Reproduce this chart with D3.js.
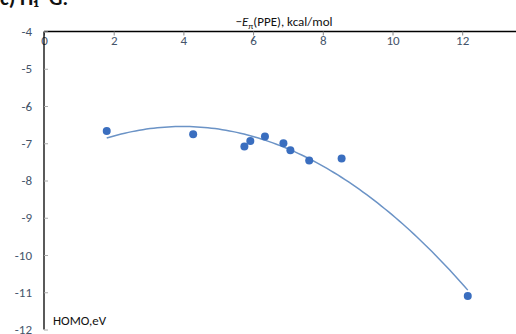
<!DOCTYPE html>
<html>
<head>
<meta charset="utf-8">
<script src="https://cdn.jsdelivr.net/npm/d3@7"></script>
<style>
  body { margin: 0; background: #fff; }
  svg { display: block; font-family: Calibri, Carlito, "Liberation Sans", Arial, sans-serif; }
</style>
</head>
<body>
<svg></svg>
<script>
// -E_pi(PPE) values, kcal/mol
let epiValues = [1.80, 4.28, 5.75, 5.92, 6.34, 6.87, 7.07, 7.61, 8.54, 12.16]
// HOMO energies, eV
let homoValues = [-6.67, -6.76, -7.09, -6.94, -6.82, -7.00, -7.19, -7.46, -7.41, -11.10]

let xTicks = [0, 2, 4, 6, 8, 10, 12]
let yTicks = [-4, -5, -6, -7, -8, -9, -10, -11, -12]

let width = 516
let height = 334

let svg = d3.select("svg")
    .attr("width", width)
    .attr("height", height)

let xScale = d3.scaleLinear()
    .domain([0, 14])
    .range([44, 44 + 14 * 34.85])

let yScale = d3.scaleLinear()
    .domain([-4, -12])
    .range([31.5, 329.5])

// quadratic least squares fit, same as the spreadsheet trendline
let fitQuadratic = (xs, ys) => {
    let s = [0, 0, 0, 0, 0], t = [0, 0, 0]
    xs.forEach((x, i) => {
        for (let k = 0; k < 5; k++) s[k] += Math.pow(x, k)
        for (let k = 0; k < 3; k++) t[k] += ys[i] * Math.pow(x, k)
    })
    let m = [[s[0], s[1], s[2], t[0]], [s[1], s[2], s[3], t[1]], [s[2], s[3], s[4], t[2]]]
    for (let i = 0; i < 3; i++) {
        for (let j = i + 1; j < 3; j++) {
            let f = m[j][i] / m[i][i]
            for (let k = i; k < 4; k++) m[j][k] -= f * m[i][k]
        }
    }
    let c = [0, 0, 0]
    for (let i = 2; i >= 0; i--) {
        let v = m[i][3]
        for (let k = i + 1; k < 3; k++) v -= m[i][k] * c[k]
        c[i] = v / m[i][i]
    }
    return c
}

let coef = fitQuadratic(epiValues, homoValues)
let xMin = d3.min(epiValues), xMax = d3.max(epiValues)
let curve = d3.range(0, 101).map(i => {
    let x = xMin + (xMax - xMin) * i / 100
    return [x, coef[0] + coef[1] * x + coef[2] * x * x]
})

// panel label, mostly cut off at the top
svg.append("text")
    .attr("x", 0)
    .attr("y", 5)
    .attr("font-size", 21)
    .attr("font-weight", "bold")
    .attr("fill", "#111")
    .text("c) H\u2081\u2013G.")

// x axis at the top
let xAxis = d3.axisBottom(xScale)
    .tickValues(xTicks)
    .tickSize(4)
    .tickPadding(0)

let gx = svg.append("g")
    .attr("transform", "translate(0," + yScale(-4) + ")")
    .call(xAxis)
gx.select(".domain").attr("stroke", "#000").attr("stroke-width", 1.3).attr("d", "M" + xScale(0) + ",0H" + width)
gx.selectAll(".tick line").attr("stroke", "#888")
gx.selectAll(".tick text")
    .attr("fill", "#44546a")
    .attr("font-size", 13)
    .attr("font-family", "Calibri, Carlito, 'Liberation Sans', sans-serif")

// y axis
let yAxis = d3.axisRight(yScale)
    .tickValues(yTicks)
    .tickSize(4)
    .tickFormat(d => d)

let gy = svg.append("g")
    .attr("transform", "translate(" + xScale(0) + ",0)")
    .call(yAxis)
gy.select(".domain").attr("stroke", "#000").attr("stroke-width", 1.3).attr("d", "M0," + yScale(-4) + "V" + yScale(-12))
gy.selectAll(".tick line").attr("stroke", "#aaa")
gy.selectAll(".tick text")
    .attr("x", -12)
    .attr("text-anchor", "end")
    .attr("fill", "#44546a")
    .attr("font-size", 13)
    .attr("font-family", "Calibri, Carlito, 'Liberation Sans', sans-serif")

// axis titles
let xt = svg.append("text")
    .attr("x", 284)
    .attr("y", 26)
    .attr("text-anchor", "middle")
    .attr("font-size", 13)
    .attr("fill", "#111")
xt.append("tspan").text("\u2212")
xt.append("tspan").attr("font-style", "italic").text("E")
xt.append("tspan").attr("font-size", 9).attr("dy", 3).text("\u03c0")
xt.append("tspan").attr("dy", -3).text("(PPE), kcal/mol")

svg.append("text")
    .attr("x", 53)
    .attr("y", 325)
    .attr("font-size", 13)
    .attr("fill", "#111")
    .text("HOMO,eV")

// trendline
let line = d3.line()
    .x(d => xScale(d[0]))
    .y(d => yScale(d[1]))

svg.append("path")
    .datum(curve)
    .attr("d", line)
    .attr("fill", "none")
    .attr("stroke", "#6b93c6")
    .attr("stroke-width", 1.5)

// data points
svg.selectAll("circle")
    .data(epiValues)
    .enter()
    .append("circle")
    .attr("cx", d => xScale(d))
    .attr("cy", (d, i) => yScale(homoValues[i]))
    .attr("r", 4)
    .attr("fill", "#3a6ebf")
</script>
</body>
</html>
